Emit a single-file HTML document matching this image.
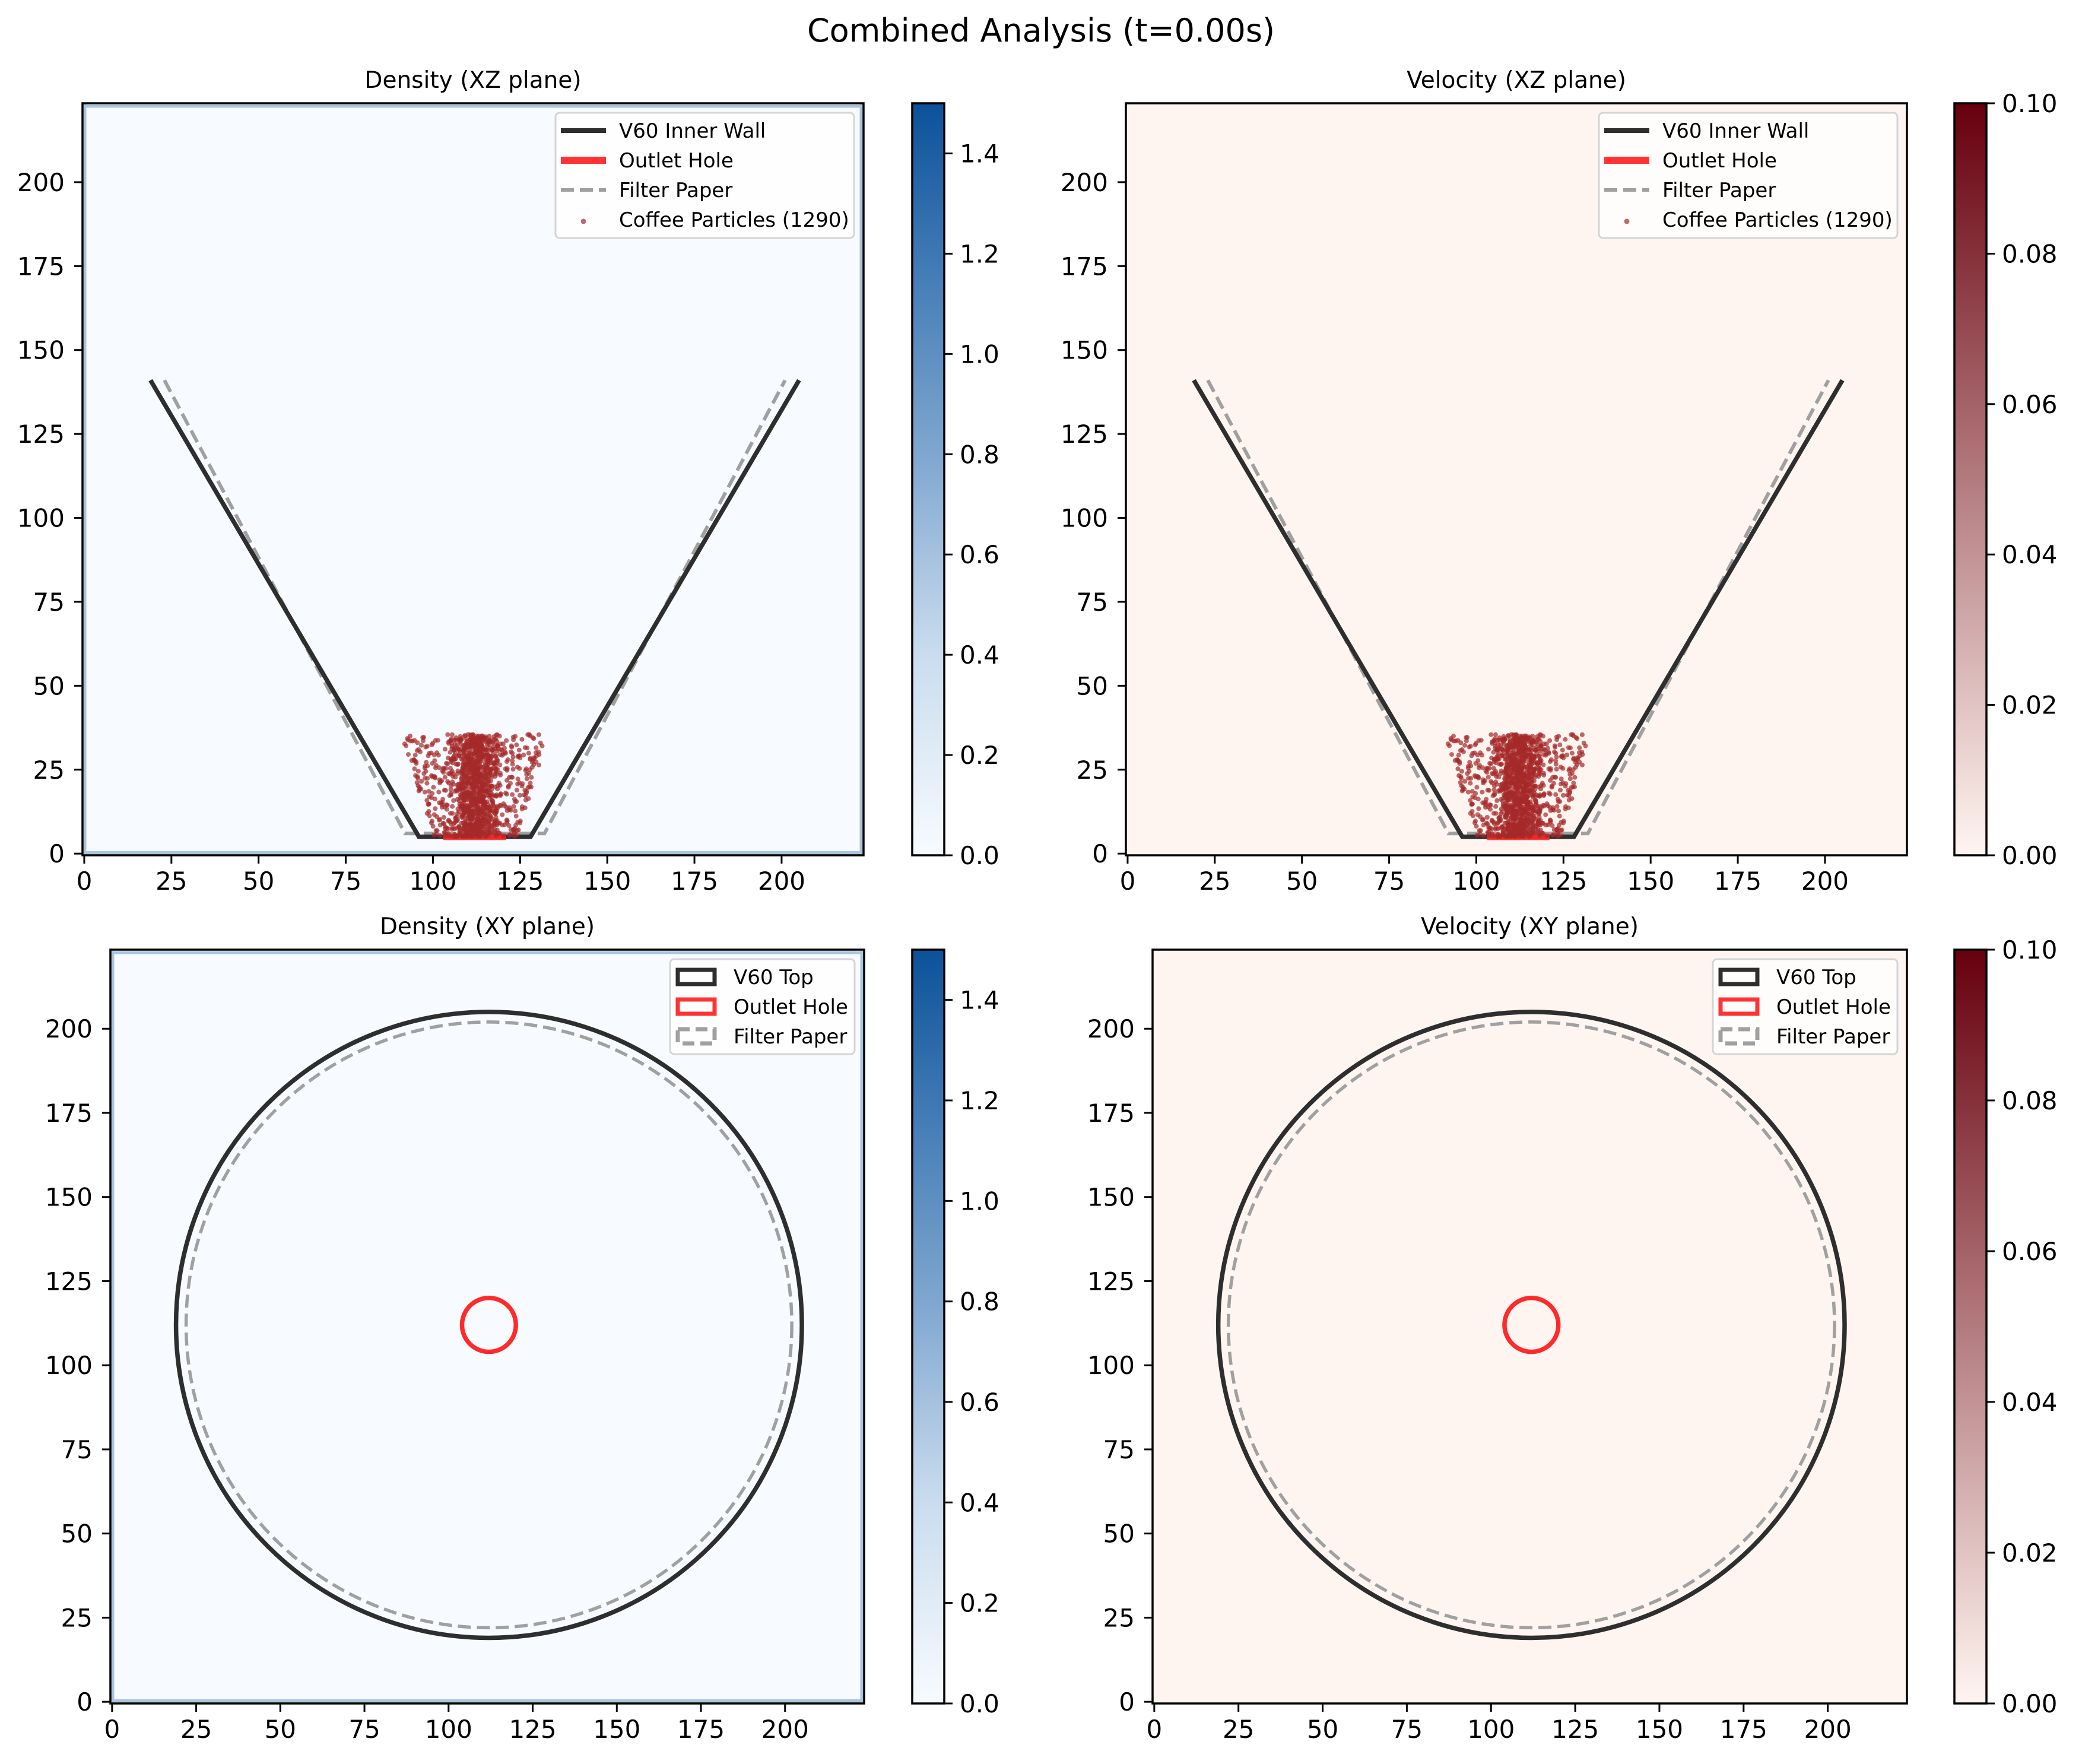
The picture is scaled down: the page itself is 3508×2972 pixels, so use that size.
<!DOCTYPE html>
<html><head><meta charset="utf-8"><style>
html,body{margin:0;padding:0;background:#fff;overflow:hidden;}
svg{display:block;font-family:"DejaVu Sans","Liberation Sans",sans-serif;}
</style></head><body>
<svg id="fig" width="3508" height="2972" viewBox="0 0 3508 2972" xmlns="http://www.w3.org/2000/svg">
<defs>
<linearGradient id="gBlues" x1="0" y1="1" x2="0" y2="0">
<stop offset="0" stop-color="#f7fbff"/><stop offset="0.27" stop-color="#c9dcee"/><stop offset="0.53" stop-color="#80a7cf"/><stop offset="0.8" stop-color="#3d78b3"/><stop offset="1" stop-color="#0b5299"/>
</linearGradient>
<linearGradient id="gReds" x1="0" y1="1" x2="0" y2="0">
<stop offset="0" stop-color="#fff5f0"/><stop offset="1" stop-color="#67000d"/>
</linearGradient>
</defs>
<text x="1754" y="70" font-size="54" text-anchor="middle" fill="#000">Combined Analysis (t=0.00s)</text>
</svg>
<script>
// ---- data ----
const xTicks = [0,25,50,75,100,125,150,175,200];
const yTicks = [0,25,50,75,100,125,150,175,200];
const densityTicks = [0.0,0.2,0.4,0.6,0.8,1.0,1.2,1.4];
const densityMax = 1.5;
const velocityTicks = [0.00,0.02,0.04,0.06,0.08,0.10];
const velocityMax = 0.10;
const wallX = [19,96,128,205];
const wallZ = [141,5,5,141];
const filterX = [23,92,132,201];
const filterZ = [141,6,6,141];
const outletX = [103,121];
const outletZ = [5,5];
const circleCenter = [112,112];
const v60TopRadius = 93;
const filterRadius = 90;
const outletRadius = 8;
const particleCount = 1290;
// deterministic particle cloud (x, z)
const particlesX = [];
const particlesZ = [];
(function(){
  let s = 12345;
  function r(){ s = (s*1103515245 + 12345) % 2147483648; return s/2147483648; }
  for(let i=0;i<particleCount;i++){
    const z = 5 + r()*30.5;
    let x;
    if(r()<0.58){ x = 112 + (r()+r()+r()-1.5)*6; }
    else { const half = 12 + (z-5)*0.3; x = 112 + (r()*2-1)*half; }
    particlesX.push(x); particlesZ.push(z);
  }
})();

const NS = "http://www.w3.org/2000/svg";
const fig = document.getElementById('fig');
function el(tag, attrs, parent){
  const e = document.createElementNS(NS, tag);
  for(const k in attrs) e.setAttribute(k, attrs[k]);
  (parent||fig).appendChild(e); return e;
}
function panel(cfg){
  const g = el('g',{});
  
  
  const {L,R,T,B} = cfg;
  const x0=-0.5, x1=223.5, y0=-0.5, y1=223.5;
  const sx = v => L + (v-x0)/(x1-x0)*(R-L);
  const sy = v => B - (v-y0)/(y1-y0)*(B-T);
  const bg = el('rect',{x:L,y:T,width:R-L,height:B-T,fill:cfg.bg},g);
  
  
  if(cfg.edge){
    el('line',{x1:L+2,y1:B-4,x2:R-2,y2:B-4,stroke:'#a9c4df','stroke-width':6},g);
    el('line',{x1:L+4,y1:T+2,x2:L+4,y2:B-2,stroke:'#a9c4df','stroke-width':5},g);
    el('line',{x1:L+2,y1:T+5,x2:R-2,y2:T+5,stroke:'#a9c4df','stroke-width':5},g);
    el('line',{x1:R-4,y1:T+2,x2:R-4,y2:B-2,stroke:'#a9c4df','stroke-width':5},g);
  }
  const clipId = 'c'+cfg.name;
  const cp = el('clipPath',{id:clipId},g); el('rect',{x:L,y:T,width:R-L,height:B-T},cp);
  const plot = el('g',{'clip-path':'url(#'+clipId+')'},g);
  if(cfg.type==='xz'){
    const fp = el('polyline',{points:filterX.map((x,i)=>sx(x)+','+sy(filterZ[i])).join(' '),fill:'none',stroke:'#a0a0a0','stroke-width':6,'stroke-dasharray':'22 10'},plot);
    
    
    const wl = el('polyline',{points:wallX.map((x,i)=>sx(x)+','+sy(wallZ[i])).join(' '),fill:'none',stroke:'#2e2e2e','stroke-width':7.5},plot);
    
    
    const ol = el('line',{x1:sx(outletX[0]),y1:sy(outletZ[0]),x2:sx(outletX[1]),y2:sy(outletZ[1]),stroke:'#ff2a2a','stroke-width':11,'stroke-opacity':0.9},plot);
    
    
    const pg = el('g',{fill:'#a52a2a','fill-opacity':0.7},plot);
    
    
    for(let i=0;i<particlesX.length;i++){
      const c = el('circle',{cx:sx(particlesX[i]).toFixed(1),cy:sy(particlesZ[i]).toFixed(1),r:4},pg);
      
      
    }
  } else {
    const cx=sx(circleCenter[0]), cy=sy(circleCenter[1]);
    const kx=(R-L)/(x1-x0), ky=(B-T)/(y1-y0);
    const f = el('ellipse',{cx,cy,rx:filterRadius*kx,ry:filterRadius*ky,fill:'none',stroke:'#a0a0a0','stroke-width':5.5,'stroke-dasharray':'22 10'},plot);
    
    
    const t = el('ellipse',{cx,cy,rx:v60TopRadius*kx,ry:v60TopRadius*ky,fill:'none',stroke:'#2e2e2e','stroke-width':7.5},plot);
    
    
    const o = el('ellipse',{cx,cy,rx:outletRadius*kx,ry:outletRadius*ky,fill:'none',stroke:'#ff2a2a','stroke-width':7.5},plot);
    
    
  }
  el('rect',{x:L,y:T,width:R-L,height:B-T,fill:'none',stroke:'#000','stroke-width':3.5},g);
  xTicks.forEach(v=>{
    el('line',{x1:sx(v),y1:B,x2:sx(v),y2:B+14,stroke:'#000','stroke-width':3},g);
    const t = el('text',{x:sx(v),y:B+58,'font-size':42,'text-anchor':'middle'},g); t.textContent=v;
    
    
  });
  yTicks.forEach(v=>{
    el('line',{x1:L,y1:sy(v),x2:L-14,y2:sy(v),stroke:'#000','stroke-width':3},g);
    const t = el('text',{x:L-30,y:sy(v)+15,'font-size':42,'text-anchor':'end'},g); t.textContent=v;
    
    
  });
  const tt = el('text',{x:(L+R)/2,y:T-26,'font-size':39,'text-anchor':'middle'},g); tt.textContent=cfg.title;
  
  
  // colorbar
  const cb = el('g',{},g);
  
  
  const CL=cfg.cbL, CR=cfg.cbL+54;
  el('rect',{x:CL,y:T,width:54,height:B-T,fill:cfg.grad},cb);
  el('rect',{x:CL,y:T,width:54,height:B-T,fill:'none',stroke:'#000','stroke-width':3.5},cb);
  cfg.cbTicks.forEach(v=>{
    const y = B - v/cfg.cbMax*(B-T);
    el('line',{x1:CR,y1:y,x2:CR+14,y2:y,stroke:'#000','stroke-width':3},cb);
    const t = el('text',{x:CR+26,y:y+15,'font-size':42},cb); t.textContent=v.toFixed(cfg.cbDec);
    
    
  });
  // legend
  const lg = el('g',{},g);
  
  
  const LX = cfg.legR - cfg.legW, LY = T + 16;
  el('rect',{x:LX,y:LY,width:cfg.legW,height:cfg.legH,rx:7,fill:'#fff','fill-opacity':0.8,stroke:'#d4d4d4','stroke-width':3},lg);
  cfg.legend.forEach((it,i)=>{
    const cy = LY + 30 + i*50, hx = LX+9;
    if(it.k==='line') el('line',{x1:hx,y1:cy,x2:hx+76,y2:cy,stroke:it.c,'stroke-width':it.w,'stroke-dasharray':it.d||'none'},lg);
    else if(it.k==='dot') el('circle',{cx:hx+38,cy:cy+3,r:4.5,fill:'#a52a2a','fill-opacity':0.7},lg);
    else el('rect',{x:hx+4,y:cy-12,width:62,height:24,fill:'none',stroke:it.c,'stroke-width':7,'stroke-dasharray':it.d||'none'},lg);
    const t = el('text',{x:hx+98,y:cy+12,'font-size':34},lg); t.textContent=it.t;
    
    
  });
}
const legXZ = [{k:'line',c:'#2e2e2e',w:8,t:'V60 Inner Wall'},{k:'line',c:'#ff3333',w:12,t:'Outlet Hole'},{k:'line',c:'#a0a0a0',w:6,d:'22 10',t:'Filter Paper'},{k:'dot',t:'Coffee Particles (1290)'}];
const legXY = [{k:'rect',c:'#2e2e2e',t:'V60 Top'},{k:'rect',c:'#ff3333',t:'Outlet Hole'},{k:'rect',c:'#a0a0a0',d:'20 10',t:'Filter Paper'}];
panel({name:'density-xz-panel',type:'xz',L:139,R:1455,T:174,B:1441,bg:'#f7fbff',edge:true,title:'Density (XZ plane)',cbL:1537,grad:'url(#gBlues)',cbTicks:densityTicks,cbMax:densityMax,cbDec:1,legR:1439,legW:503,legH:211,legend:legXZ});
panel({name:'velocity-xz-panel',type:'xz',L:1897,R:3213,T:174,B:1441,bg:'#fff5f0',edge:false,title:'Velocity (XZ plane)',cbL:3293,grad:'url(#gReds)',cbTicks:velocityTicks,cbMax:velocityMax,cbDec:2,legR:3197,legW:503,legH:211,legend:legXZ});
panel({name:'density-xy-panel',type:'xy',L:186,R:1456,T:1600,B:2870,bg:'#f7fbff',edge:true,title:'Density (XY plane)',cbL:1537,grad:'url(#gBlues)',cbTicks:densityTicks,cbMax:densityMax,cbDec:1,legR:1440,legW:311,legH:160,legend:legXY});
panel({name:'velocity-xy-panel',type:'xy',L:1942,R:3213,T:1600,B:2870,bg:'#fff5f0',edge:false,title:'Velocity (XY plane)',cbL:3293,grad:'url(#gReds)',cbTicks:velocityTicks,cbMax:velocityMax,cbDec:2,legR:3197,legW:311,legH:160,legend:legXY});
</script>
</body></html>
